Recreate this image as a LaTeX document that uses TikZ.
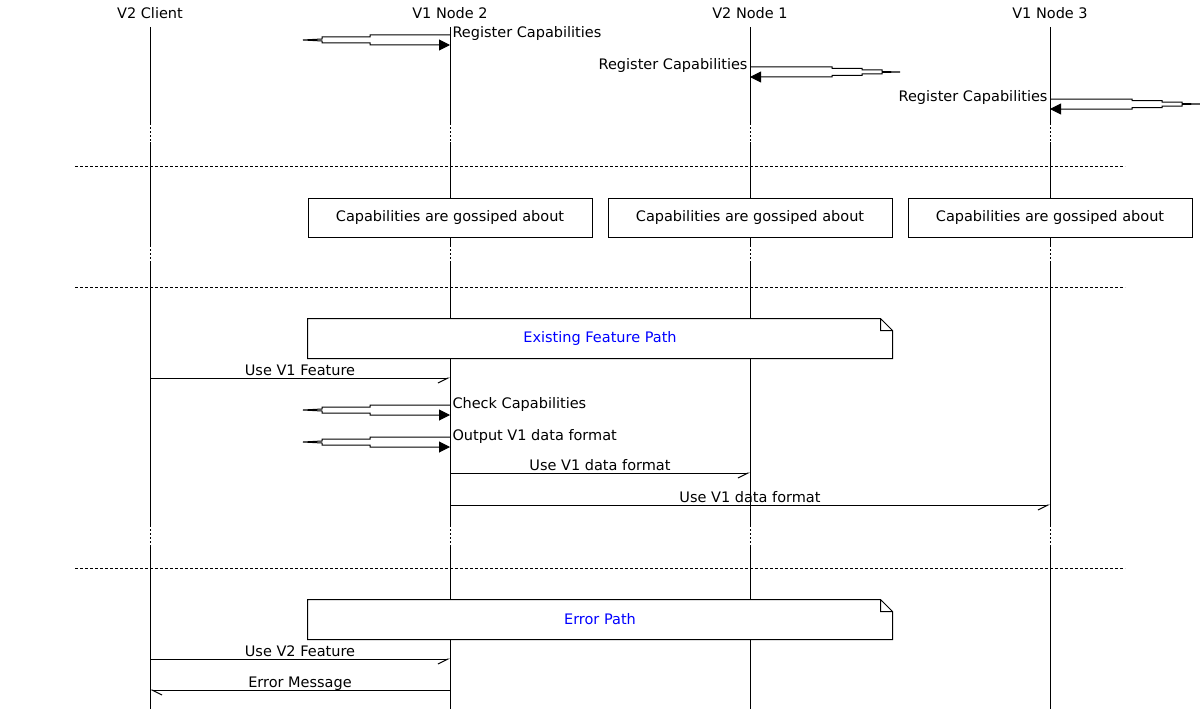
\documentclass[tikz,border=0pt]{standalone}
\usepackage{fontspec}
\setmainfont{DejaVu Sans}
\usetikzlibrary{arrows.meta}

\begin{document}
\begin{tikzpicture}[x=1pt, y=-1pt, line width=1pt, font=\fontsize{14.5}{17}\selectfont,
  msg/.style={-{Straight Barb[right, length=10pt, width=10pt]}},
  msgback/.style={-{Straight Barb[left, length=10pt, width=10pt]}},
  brk/.style={dash pattern=on 2pt off 2pt},
  sep/.style={line width=1pt, dash pattern=on 3pt off 2pt},
  mlbl/.style={anchor=base, inner sep=0pt, yshift=3pt},
  rlbl/.style={anchor=base west, inner sep=0pt, xshift=2pt, yshift=-3pt},
  llbl/.style={anchor=base east, inner sep=0pt, xshift=-2pt, yshift=-3pt},
  loopleft/.style={-{Triangle[length=11pt, width=11pt]},
    to path={-- ++(-80,0) -- ++(0,2) -- ++(-48,0) -- ++(0,2) -- ++(-19,1) -- ++(19,1)
      -- ++(0,2) -- ++(48,0) -- ++(0,2) -- (\tikztotarget)}},
  loopright/.style={-{Triangle[length=11pt, width=11pt]},
    to path={-- ++(82,0) -- ++(0,1.5) -- ++(30,0) -- ++(0,1.5) -- ++(20,0) -- ++(0,1.5)
      -- ++(18,0.5) -- ++(-18,0.5) -- ++(0,1.5) -- ++(-20,0) -- ++(0,1.5) -- ++(-30,0)
      -- ++(0,1.5) -- (\tikztotarget)}},
  gossip/.style={draw, fill=white, minimum width=284pt, minimum height=39pt, inner sep=0pt},
  note/.style={fill=white, text=blue, minimum width=584pt, minimum height=39pt, inner sep=0pt}]
  \useasboundingbox (0,0) rectangle (1200,709);

  \node (cl) at (150,13) {V2 Client};
  \node (n2) at (450,13) {V1 Node 2};
  \node (n1) at (750,13) {V2 Node 1};
  \node (n3) at (1050,13) {V1 Node 3};

  % lifelines, broken where the phases change
  \foreach \p in {cl,n2,n1,n3}{
    \draw (\p |- 0,27) -- (\p |- 0,123) (\p |- 0,142) -- (\p |- 0,245)
      (\p |- 0,263) -- (\p |- 0,525) (\p |- 0,545) -- (\p |- 0,709);
    \draw[brk] (\p |- 0,123) -- (\p |- 0,142) (\p |- 0,245) -- (\p |- 0,263)
      (\p |- 0,525) -- (\p |- 0,545);
  }

  \draw[sep] (75,166) -- (1125,166);
  \draw[sep] (75,287) -- (1125,287);
  \draw[sep] (75,568) -- (1125,568);

  % registration
  \draw[loopleft] (n2 |- 0,35) node[rlbl] (reg2) {Register Capabilities} to (n2 |- 0,45);
  \draw[loopright] (n1 |- 0,67) node[llbl] (reg1) {Register Capabilities} to (n1 |- 0,77);
  \draw[loopright] (n3 |- 0,99) node[llbl] (reg3) {Register Capabilities} to (n3 |- 0,109);

  % gossip
  \node[gossip] (g2) at (450,217.5) {Capabilities are gossiped about};
  \node[gossip] (g1) at (750,217.5) {Capabilities are gossiped about};
  \node[gossip] (g3) at (1050,217.5) {Capabilities are gossiped about};

  % existing feature
  \node[note] (ef) at (600,338.5) {Existing Feature Path};
  \draw (ef.south west) -- (ef.north west) -- ([xshift=-12pt]ef.north east)
    -- ([yshift=-12pt]ef.north east) -- (ef.south east) -- cycle
    ([xshift=-12pt]ef.north east) |- ([yshift=-12pt]ef.north east);

  \draw[msg] (cl |- 0,378) -- node[mlbl] (u1) {Use V1 Feature} (n2 |- 0,378);
  \draw[loopleft] (n2 |- 0,405) node[rlbl] (chk) {Check Capabilities} to (n2 |- 0,415);
  \draw[loopleft] (n2 |- 0,437) node[rlbl] (out) {Output V1 data format} to (n2 |- 0,447);
  \draw[msg] (n2 |- 0,473) -- node[mlbl] (d1) {Use V1 data format} (n1 |- 0,473);
  \draw[msg] (n2 |- 0,505) -- node[mlbl] (d3) {Use V1 data format} (n3 |- 0,505);

  % error
  \node[note] (ep) at (600,619.5) {Error Path};
  \draw (ep.south west) -- (ep.north west) -- ([xshift=-12pt]ep.north east)
    -- ([yshift=-12pt]ep.north east) -- (ep.south east) -- cycle
    ([xshift=-12pt]ep.north east) |- ([yshift=-12pt]ep.north east);

  \draw[msg] (cl |- 0,659) -- node[mlbl] (u2) {Use V2 Feature} (n2 |- 0,659);
  \draw[msgback] (n2 |- 0,690) -- node[mlbl] (err) {Error Message} (cl |- 0,690);
\end{tikzpicture}
\end{document}
